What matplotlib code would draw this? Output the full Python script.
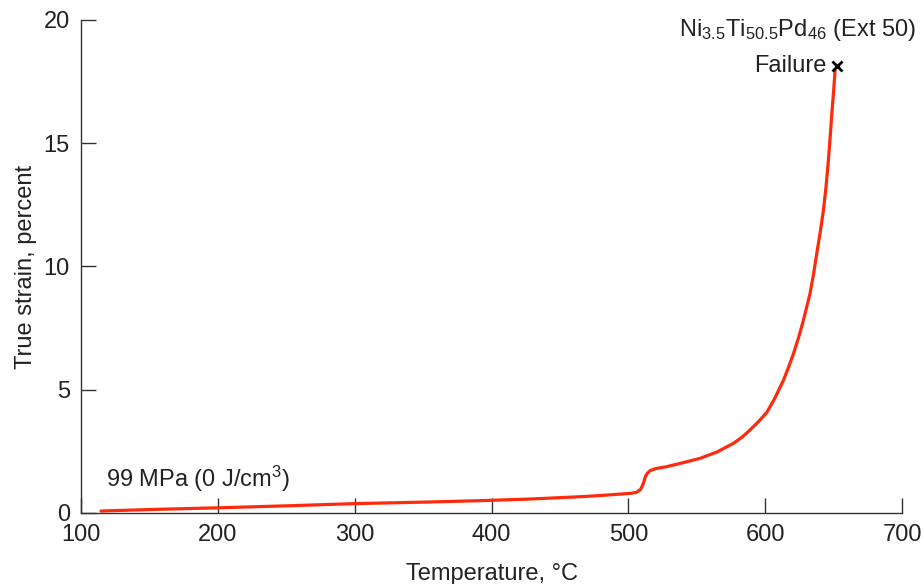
import matplotlib
matplotlib.use("Agg")
import matplotlib.pyplot as plt

plt.rcParams["font.family"] = ["Liberation Sans", "DejaVu Sans"]
plt.rcParams["mathtext.default"] = "regular"

# temperature (C) vs true strain (percent)
temperature = [114.6, 150, 200, 250, 300, 350, 392, 430, 465, 480, 495, 502,
               506, 508.8, 510, 511.3, 512.4, 514, 516, 520, 528, 540, 552.6,
               565, 576.9, 583, 589, 595, 601.2, 607, 613.4, 617, 620.7, 624.5,
               628, 632.8, 635.3, 637.7, 640.2, 642.6, 644.5, 646.2, 647.5,
               648.7, 650, 651.1]
strain = [0.08, 0.14, 0.21, 0.29, 0.38, 0.44, 0.5, 0.57, 0.66, 0.71, 0.77, 0.8,
          0.84, 0.95, 1.07, 1.25, 1.47, 1.62, 1.72, 1.8, 1.88, 2.04, 2.22,
          2.48, 2.83, 3.07, 3.37, 3.7, 4.08, 4.65, 5.39, 5.9, 6.47, 7.13,
          7.83, 8.91, 9.68, 10.53, 11.38, 12.29, 13.25, 14.31, 15.25, 16.2,
          17.1, 17.96]
failure_t = 652.8
failure_s = 18.13

fs = 17

fig = plt.figure(figsize=(9.24, 5.84), dpi=100)
ax = fig.add_axes([0.0877, 0.1216, 0.8885, 0.8442])

ax.plot(temperature, strain, color="#ff2a0e", lw=2.3, solid_capstyle="round",
        solid_joinstyle="round")
ax.plot([failure_t], [failure_s], marker="x", color="black", ms=7, mew=2, ls="none")

ax.set_xlim(100, 700)
ax.set_ylim(0, 20)
ax.set_xticks(range(100, 701, 100))
ax.set_yticks(range(0, 21, 5))

for s in ("top", "right"):
    ax.spines[s].set_visible(False)
for s in ("left", "bottom"):
    ax.spines[s].set_color("#333333")
    ax.spines[s].set_linewidth(1.0)
ax.tick_params(direction="in", length=11, width=1.0, color="#333333",
               labelsize=fs, labelcolor="#222222", pad=8)

ax.set_xlabel("Temperature, °C", fontsize=fs, color="#222222", labelpad=12)
ax.set_ylabel("True strain, percent", fontsize=fs, color="#222222", labelpad=5)

ax.text(710, 19.6, r"Ni$_{3.5}$Ti$_{50.5}$Pd$_{46}$ (Ext 50)", fontsize=fs,
        color="#222222", ha="right", va="center", clip_on=False)
ax.text(645, 18.13, "Failure", fontsize=fs, color="#222222",
        ha="right", va="center")
ax.text(118, 0.75, r"99 MPa (0 J/cm$^{3}$)", fontsize=fs, color="#222222",
        ha="left", va="bottom")

fig.savefig("out.png", dpi=100)
